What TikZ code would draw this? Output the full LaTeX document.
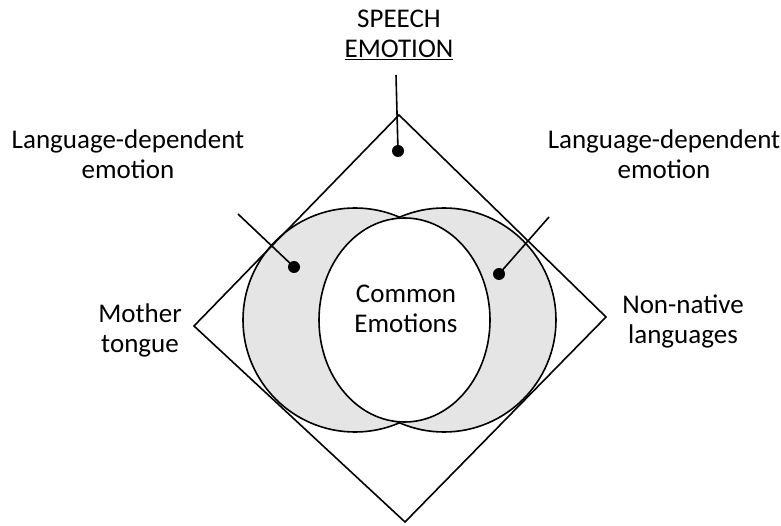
\documentclass[tikz,border=0pt]{standalone}
\usepackage{fontspec}
\setmainfont{Carlito}
\usetikzlibrary{positioning}
\definecolor{lensgray}{gray}{0.9}
\tikzset{lbl/.style={font=\fontsize{27}{30.5}\selectfont, align=center, inner sep=0pt, anchor=base}}

\begin{document}
\begin{tikzpicture}[x=1pt,y=-1pt,line width=1.6pt]
\newcommand\dotr{6}
\newcommand\rbig{112}
\newcommand\cy{320}
\useasboundingbox (0,0) rectangle (781,526);

% the two languages and what they share
\draw[fill=lensgray] (355,\cy) circle (\rbig);
\draw[fill=lensgray] (444,\cy) circle (\rbig);
\draw[fill=white] (404.5,\cy) ellipse (85.5 and 102);

% speech emotion square
\coordinate (top) at (399,115);
\coordinate (right) at (606,317);
\coordinate (bottom) at (405,522);
\coordinate (left) at (194,326);
\draw (top) -- (right) -- (bottom) -- (left) -- cycle;

% labels (base = last line)
\node[lbl] (speech) at (399,58) {SPEECH\\\underline{EMOTION}};
\node[lbl] (ldep) at (128,179) {Language-dependent\\emotion};
\node[lbl] (rdep) at (664,179) {Language-dependent\\emotion};
\node[lbl] (mother) at (140,352.5) {Mother\\tongue};
\node[lbl] (nonnat) at (683,343.5) {Non-native\\languages};
\node[lbl] (common) at (406,332.5) {Common\\Emotions};

% pointers
\coordinate (ttick) at (396,75);
\coordinate (tdot) at (398,151);
\coordinate (ltick) at (238,214);
\coordinate (ldot) at (294,267);
\coordinate (rtick) at (549,217);
\coordinate (rdot) at (499,274);
\foreach \p in {t,l,r}{
\draw (\p tick) -- (\p dot);
\fill (\p dot) circle (\dotr);
}

\end{tikzpicture}
\end{document}
